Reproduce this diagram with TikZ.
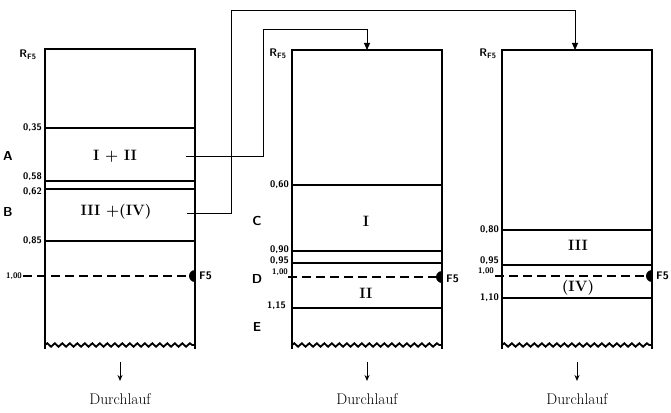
\documentclass[tikz,border=0pt]{standalone}
\usetikzlibrary{arrows.meta,decorations.pathmorphing}
\begin{document}
\begin{tikzpicture}[x=1pt,y=-1pt,
  wall/.style={line width=2.2pt},
  band/.style={line width=1.2pt},
  dline/.style={line width=1.2pt, dash pattern=on 9pt off 5pt},
  wave/.style={line width=1.8pt, decorate, decoration={snake,segment length=7.5pt,amplitude=1.8pt}},
  conn/.style={line width=0.9pt},
  val/.style={font=\sffamily\bfseries\fontsize{9.5}{10}\selectfont, inner sep=0pt, anchor=east},
  sval/.style={font=\sffamily\bfseries\fontsize{8}{9}\selectfont, inner sep=0pt, anchor=east},
  zone/.style={font=\sffamily\bfseries\fontsize{13}{15}\selectfont, inner sep=0pt},
  frac/.style={font=\bfseries\fontsize{15}{17}\selectfont, inner sep=0pt},
  lab/.style={font=\fontsize{15.5}{18}\selectfont, inner sep=0pt},
  rf/.style={font=\sffamily\bfseries\fontsize{11}{12}\selectfont, inner sep=0pt},
  fmark/.style={font=\sffamily\bfseries\fontsize{11}{12}\selectfont, inner sep=0pt, anchor=west},
  outarr/.style={line width=1pt, -{Stealth[length=6pt,width=5pt]}},
  inarr/.style={conn, -{Triangle[length=7pt,width=6pt]}}
]
\useasboundingbox (0,0) rectangle (671,412);

% ---------- left column ----------
\draw[wall] (45,349) -- (45,49) -- (195,49) -- (195,349);
\draw[wave] (45,345) -- (195,345);
\draw[band] (45,128) -- (195,128);
\draw[band] (45,181) -- (195,181);
\draw[band] (45,189) -- (195,189);
\draw[band] (45,241) -- (195,241);
\draw[dline] (23,276) -- (195,276);
\fill (195,282) arc[start angle=90, end angle=270, radius=6] -- cycle;
\node[rf] (rf1) at (28,55) {R\textsubscript{F5}};
\node[val] (l1a) at (42,128) {0,35};
\node[val] (l1b) at (42,177) {0,58};
\node[val] (l1c) at (42,192) {0,62};
\node[val] (l1d) at (42,241) {0,85};
\node[sval] (l1e) at (22,276) {1,00};
\node[zone] (zA) at (8,156) {A};
\node[zone] (zB) at (8,212) {B};
\node[frac] (f12) at (115,156) {I + II};
\node[frac] (f34) at (116,212) {III +(IV)};
\node[fmark] (fm1) at (199,276) {F5};

% ---------- middle column ----------
\draw[wall] (292,349) -- (292,50) -- (442,50) -- (442,349);
\draw[wave] (292,345) -- (442,345);
\draw[band] (292,185) -- (442,185);
\draw[band] (292,251) -- (442,251);
\draw[band] (292,263) -- (442,263);
\draw[band] (292,308) -- (442,308);
\draw[dline] (288,277) -- (442,277);
\fill (442,283) arc[start angle=90, end angle=270, radius=6] -- cycle;
\node[rf] (rf2) at (278,54) {R\textsubscript{F5}};
\node[val] (l2a) at (289,185) {0,60};
\node[val] (l2b) at (289,250) {0,90};
\node[val] (l2c) at (289,261) {0,95};
\node[sval] (l2d) at (288,272) {1,00};
\node[val] (l2e) at (286,306) {1,15};
\node[zone] (zC) at (257,221) {C};
\node[zone] (zD) at (257,279) {D};
\node[zone] (zE) at (257,327) {E};
\node[frac] (f1) at (366,221) {I};
\node[frac] (f2) at (366,293) {II};
\node[fmark] (fm2) at (446,279) {F5};

% ---------- right column ----------
\draw[wall] (502,349) -- (502,50) -- (652,50) -- (652,349);
\draw[wave] (502,345) -- (652,345);
\draw[band] (502,230) -- (652,230);
\draw[band] (502,265) -- (652,265);
\draw[band] (502,298) -- (652,298);
\draw[dline] (495,276) -- (652,276);
\fill (652,282) arc[start angle=90, end angle=270, radius=6] -- cycle;
\node[rf] (rf3) at (488,54) {R\textsubscript{F5}};
\node[val] (l3a) at (499,230) {0,80};
\node[val] (l3b) at (499,261) {0,95};
\node[sval] (l3c) at (494,271) {1,00};
\node[val] (l3d) at (499,298) {1,10};
\node[frac] (f3) at (578,245) {III};
\node[frac] (f4) at (578,288) {(IV)};
\node[fmark] (fm3) at (656,276) {F5};

% ---------- transfer connectors ----------
\coordinate (aS) at (186,156);
\coordinate (aK1) at (263,156);
\coordinate (aK2) at (263,29);
\coordinate (aK3) at (367,29);
\coordinate (aT) at (367,50);
\draw[inarr] (aS) -- (aK1) -- (aK2) -- (aK3) -- (aT);
\draw[conn] (195,152) -- (195,160);

\coordinate (bS) at (187,213);
\coordinate (bK1) at (231,213);
\coordinate (bK2) at (231,10);
\coordinate (bK3) at (575,10);
\coordinate (bT) at (575,50);
\draw[inarr] (bS) -- (bK1) -- (bK2) -- (bK3) -- (bT);

% ---------- outflow ----------
\coordinate (o1s) at (120,362); \coordinate (o1e) at (120,381);
\coordinate (o2s) at (367,362); \coordinate (o2e) at (367,381);
\coordinate (o3s) at (577,362); \coordinate (o3e) at (577,381);
\draw[outarr] (o1s) -- (o1e);
\draw[outarr] (o2s) -- (o2e);
\draw[outarr] (o3s) -- (o3e);
\node[lab] (d1) at (120,399) {Durchlauf};
\node[lab] (d2) at (367,399) {Durchlauf};
\node[lab] (d3) at (577,399) {Durchlauf};
\end{tikzpicture}
\end{document}
